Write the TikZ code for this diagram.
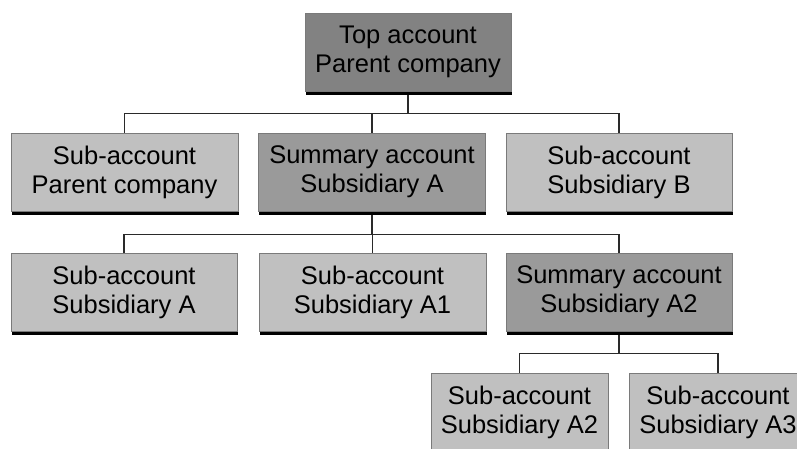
\documentclass[tikz,border=0pt]{standalone}
\usepackage{fontspec}
\setmainfont{Liberation Sans}
\usetikzlibrary{shadows}
\definecolor{lightbox}{HTML}{C0C0C0}
\definecolor{darkbox}{HTML}{9A9A9A}
\definecolor{topbox}{HTML}{828282}
\definecolor{edge}{HTML}{7A7A7A}
\definecolor{linec}{HTML}{2A2A2A}
\begin{document}
\begin{tikzpicture}[x=1pt,y=-1pt,
  acct/.style={draw=edge, line width=0.8pt, fill=lightbox, minimum height=78pt,
    inner sep=0pt, align=center, text=black,
    font=\fontsize{25.5}{29}\selectfont,
    drop shadow={shadow xshift=0.6pt, shadow yshift=-3.6pt, fill=black, opacity=1}},
  summ/.style={acct, fill=darkbox},
  topacct/.style={acct, fill=topbox},
  conn/.style={draw=linec, line width=1.4pt}]
\useasboundingbox (0,0) rectangle (797,449);
\begin{scope}
\clip (0,0) rectangle (797,449);
\node[topacct, minimum width=206pt] (top) at (408,52) {Top account\\Parent company};
\node[acct, minimum width=227pt] (sl) at (124.5,172) {Sub-account\\Parent company};
\node[summ, minimum width=227pt] (sm) at (372,172) {Summary account\\Subsidiary A};
\node[acct, minimum width=226pt] (sr) at (619,172) {Sub-account\\Subsidiary B};
\node[acct, minimum width=226pt] (al) at (124,292) {Sub-account\\Subsidiary A};
\node[acct, minimum width=227pt] (am) at (372.5,292) {Sub-account\\Subsidiary A1};
\node[summ, minimum width=226pt] (a2) at (619,292) {Summary account\\Subsidiary A2};
\node[acct, minimum width=177pt] (bl) at (519.5,412) {Sub-account\\Subsidiary A2};
\node[acct, minimum width=178pt] (br) at (718,412) {Sub-account\\Subsidiary A3};
\end{scope}
\draw[conn] (top.south) ++(0,3.6) -- ++(0,18.4) -| (sl.north);
\draw[conn] (top.south) ++(0,22) -| (sm.north);
\draw[conn] (top.south) ++(0,22) -| (sr.north);
\draw[conn] (sm.south) ++(0,3.6) -- ++(0,19.4) -| (al.north);
\draw[conn] (sm.south) ++(0,23) -| (am.north);
\draw[conn] (sm.south) ++(0,23) -| (a2.north);
\draw[conn] (a2.south) ++(0,3.6) -- ++(0,18.4) -| (bl.north);
\draw[conn] (a2.south) ++(0,22) -| (br.north);
\end{tikzpicture}
\end{document}
